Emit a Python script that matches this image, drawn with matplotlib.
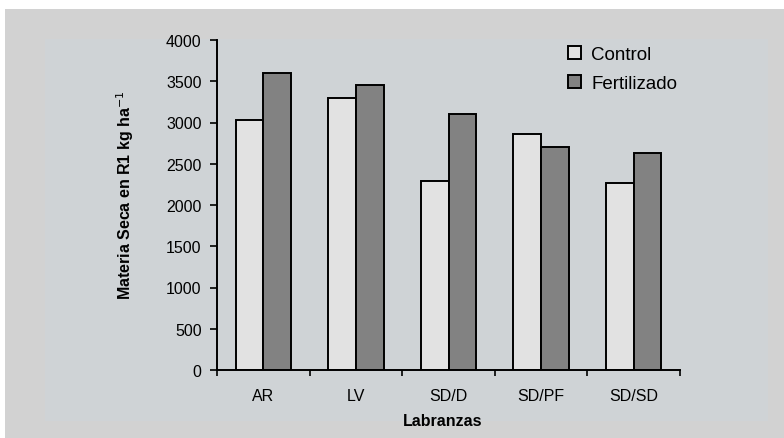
import matplotlib
matplotlib.use("Agg")
import matplotlib.pyplot as plt
from matplotlib.patches import Rectangle
import numpy as np

plt.rcParams['font.family'] = ['Liberation Sans', 'DejaVu Sans']

labranzas = ["AR", "LV", "SD/D", "SD/PF", "SD/SD"]
control = [3030, 3300, 2290, 2860, 2265]
fertilizado = [3600, 3460, 3100, 2700, 2625]
yticks = [0, 500, 1000, 1500, 2000, 2500, 3000, 3500, 4000]

W, H = 784, 439
fig = plt.figure(figsize=(W / 100, H / 100), dpi=100)
fig.patch.set_facecolor("white")

# outer grey frame and inner panel
fig.add_artist(Rectangle((5 / W, 0), 779 / W, 429 / H, transform=fig.transFigure,
                         facecolor="#d2d2d2", edgecolor="none", zorder=-2))
fig.add_artist(Rectangle((45 / W, 17 / H), 723 / W, 382 / H, transform=fig.transFigure,
                         facecolor="#cfd3d6", edgecolor="none", zorder=-1))

ax = fig.add_axes([217 / W, 1 - 371 / H, (680 - 217) / W, (371 - 41) / H])
ax.set_facecolor("none")

x = np.arange(len(labranzas))
w = 0.3
ax.bar(x - w / 2, control, width=w, color="#e2e2e2", edgecolor="black", linewidth=1.4,
       label="Control")
ax.bar(x + w / 2, fertilizado, width=w, color="#828282", edgecolor="black", linewidth=1.4,
       label="Fertilizado")

fs = 11.5
ax.set_xlim(-0.5, len(labranzas) - 0.5)
ax.set_ylim(0, 4000)
ax.set_yticks(yticks)
ax.set_yticklabels([str(v) for v in yticks], fontsize=fs)
ax.set_xticks(np.arange(-0.5, len(labranzas), 1.0))
ax.set_xticklabels([])
ax.set_xticks(x, minor=True)
ax.set_xticklabels(labranzas, minor=True, fontsize=fs)
ax.tick_params(axis="x", which="minor", length=0, pad=13)
ax.tick_params(axis="x", which="major", length=4, width=1.2, direction="out")
ax.tick_params(axis="y", length=5, width=1.2, direction="out", pad=6)

for s in ["top", "right"]:
    ax.spines[s].set_visible(False)
for s in ["left", "bottom"]:
    ax.spines[s].set_linewidth(1.4)

ax.set_xlabel("Labranzas", fontsize=fs, fontweight="bold")
ax.xaxis.set_label_coords((443 - 217) / 463, (371 - 414) / 330)
ax.set_ylabel("Materia Seca en R1 kg ha$^{-1}$", fontsize=fs, fontweight="bold")
ax.yaxis.set_label_coords((136 - 217) / 463, (371 - 195) / 330)

leg = ax.legend(loc="upper left", bbox_to_anchor=(551 / W, 1 - 30 / H),
                bbox_transform=fig.transFigure, frameon=False,
                prop={"size": 13.5}, handlelength=0.7, handleheight=0.7,
                handletextpad=0.55, labelspacing=0.65)

fig.savefig("out.png", dpi=100)
